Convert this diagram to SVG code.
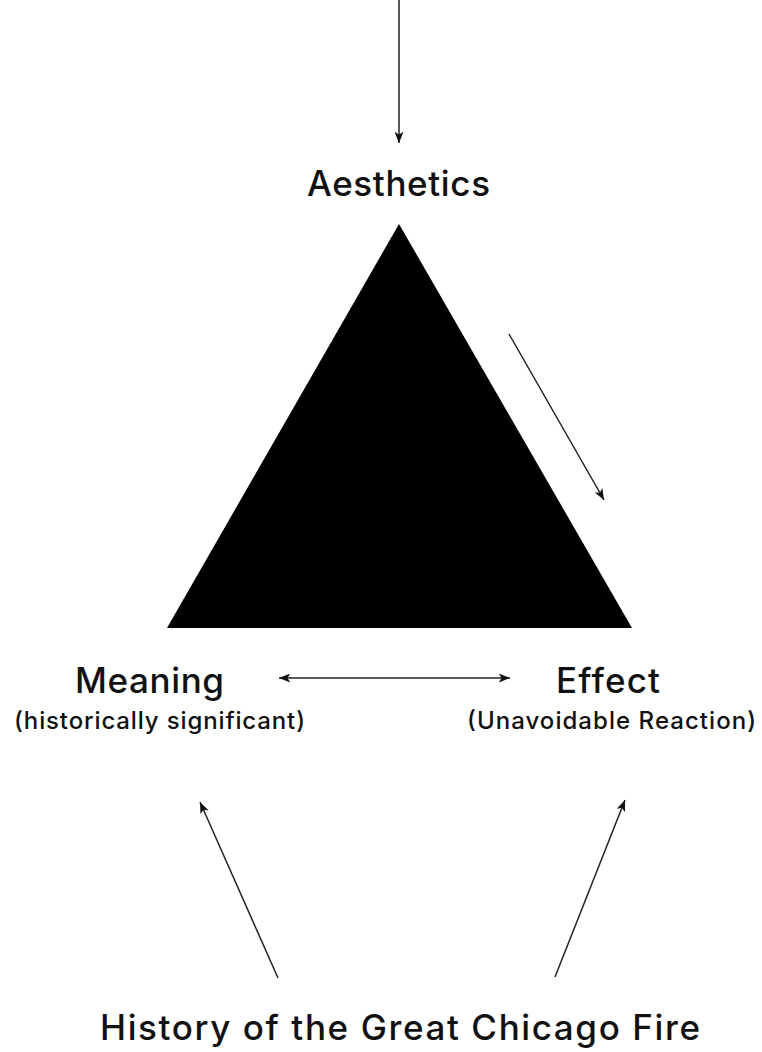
<svg xmlns="http://www.w3.org/2000/svg" width="762" height="1052" viewBox="0 0 762 1052">
<style>
.lbl{font-family:Inter,"Liberation Sans",Arial,sans-serif;font-weight:500;fill:#111;text-anchor:start}
.big{font-size:35px}
.sm{font-size:24px}
.con{stroke:#222;stroke-width:1.5;fill:none}
</style>
<defs>
<marker id="ah" viewBox="0 0 10 8" refX="10" refY="4" markerWidth="12" markerHeight="9" markerUnits="userSpaceOnUse" orient="auto-start-reverse">
<path d="M0,0 L10,4 L0,8 L2.5,4 Z" fill="#111"/>
</marker>
</defs>
<rect width="762" height="1052" fill="#fff"/>
<g id="triangle">
<polygon points="399,224 167,628 632,628" fill="#000"/>
</g>
<g id="aesthetics">
<text class="lbl big" x="307" y="196" textLength="183" lengthAdjust="spacing">Aesthetics</text>
</g>
<g id="meaning">
<text class="lbl big" x="75" y="693" textLength="149" lengthAdjust="spacing">Meaning</text>
<text class="lbl sm" x="14" y="729" textLength="291" lengthAdjust="spacing">(historically significant)</text>
</g>
<g id="effect">
<text class="lbl big" x="556" y="693" textLength="104" lengthAdjust="spacing">Effect</text>
<text class="lbl sm" x="467" y="729" textLength="289" lengthAdjust="spacing">(Unavoidable Reaction)</text>
</g>
<g id="history">
<text class="lbl big" x="100" y="1040" textLength="600" lengthAdjust="spacing">History of the Great Chicago Fire</text>
</g>
<g id="connectors">
<line class="con" x1="399" y1="0" x2="399" y2="143" marker-end="url(#ah)"/>
<line class="con" x1="509" y1="334" x2="604" y2="500" marker-end="url(#ah)"/>
<line class="con" x1="279" y1="678" x2="510" y2="678" marker-start="url(#ah)" marker-end="url(#ah)"/>
<line class="con" x1="278" y1="978" x2="200" y2="802" marker-end="url(#ah)"/>
<line class="con" x1="555" y1="977" x2="625" y2="800" marker-end="url(#ah)"/>
</g>
</svg>
